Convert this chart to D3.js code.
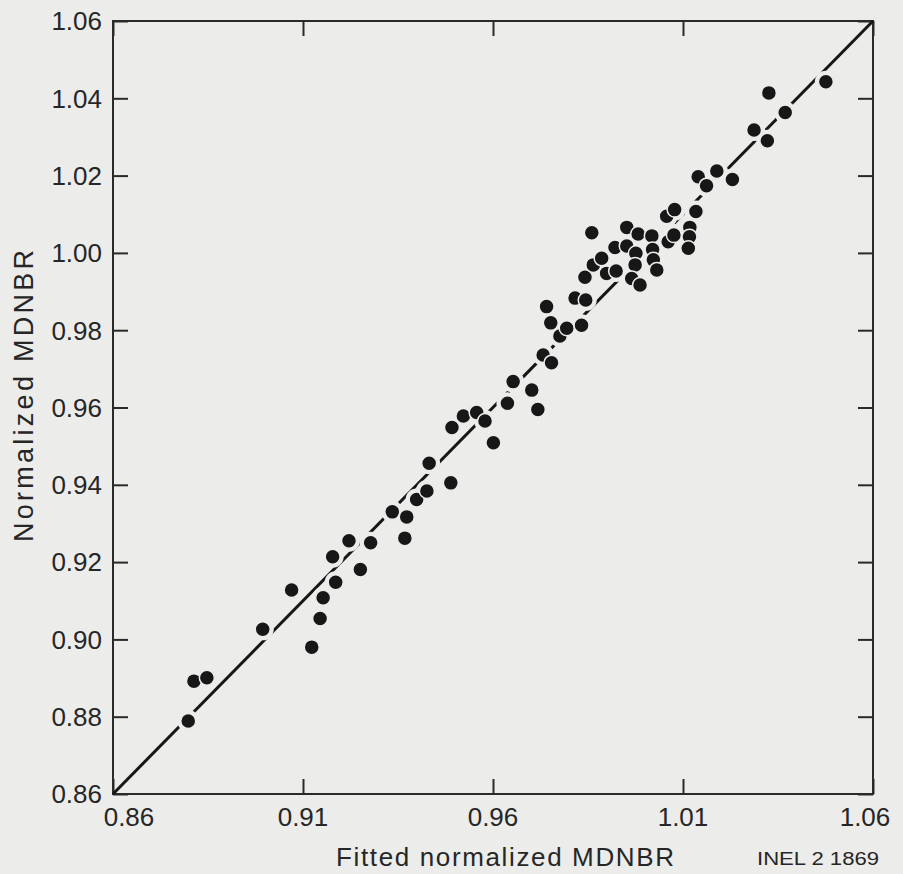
<!DOCTYPE html>
<html>
<head>
<meta charset="utf-8">
<script src="https://cdn.jsdelivr.net/npm/d3@7"></script>
<style>
  html, body { margin: 0; padding: 0; background: #ececea; }
  svg { display: block; }
  text { font-family: "Liberation Sans", Arial, Helvetica, sans-serif; fill: #262626; }
</style>
</head>
<body>
<svg id="chart" width="903" height="874"></svg>
<script>
// ---- Data ----
const xTickValues = [0.86, 0.91, 0.96, 1.01, 1.06];
const yTickValues = [0.86, 0.88, 0.90, 0.92, 0.94, 0.96, 0.98, 1.00, 1.02, 1.04, 1.06];
const xTickLabels = ["0.86", "0.91", "0.96", "1.01", "1.06"];
const yTickLabels = ["0.86", "0.88", "0.90", "0.92", "0.94", "0.96", "0.98", "1.00", "1.02", "1.04", "1.06"];

const fittedMDNBR = [
  0.8798, 0.8813, 0.8847, 0.8994, 0.9070, 0.9123, 0.9145, 0.9153, 0.9186, 0.9178,
  0.9221, 0.9278, 0.9251, 0.9335, 0.9373, 0.9368, 0.9399, 0.9426, 0.9432, 0.9489,
  0.9492, 0.9522, 0.9557, 0.9579, 0.9601, 0.9638, 0.9653, 0.9702, 0.9718, 0.9732,
  0.9754, 0.9741, 0.9752, 0.9776, 0.9794, 0.9833, 0.9816, 0.9844, 0.9842, 0.9864,
  0.9886, 0.9899, 0.9924, 0.9860, 0.9921, 0.9952, 0.9952, 0.9982, 0.9976, 0.9974,
  0.9965, 0.9987, 1.0018, 1.0020, 1.0022, 1.0031, 1.0057, 1.0078, 1.0061, 1.0076,
  1.0118, 1.0117, 1.0114, 1.0134, 1.0140, 1.0162, 1.0189, 1.0230, 1.0287, 1.0322,
  1.0326, 1.0369, 1.0476
];
const normalizedMDNBR = [
  0.8789, 0.8892, 0.8901, 0.9026, 0.9128, 0.8980, 0.9054, 0.9108, 0.9148, 0.9214,
  0.9255, 0.9250, 0.9181, 0.9330, 0.9317, 0.9262, 0.9362, 0.9384, 0.9456, 0.9405,
  0.9548, 0.9578, 0.9587, 0.9565, 0.9509, 0.9611, 0.9667, 0.9645, 0.9595, 0.9736,
  0.9716, 0.9861, 0.9819, 0.9785, 0.9805, 0.9813, 0.9883, 0.9878, 0.9937, 0.9969,
  0.9986, 0.9947, 0.9953, 1.0052, 1.0014, 1.0018, 1.0066, 1.0049, 0.9999, 0.9969,
  0.9934, 0.9917, 1.0044, 1.0009, 0.9982, 0.9956, 1.0095, 1.0112, 1.0029, 1.0046,
  1.0066, 1.0042, 1.0012, 1.0107, 1.0197, 1.0174, 1.0212, 1.0190, 1.0318, 1.0290,
  1.0414, 1.0363, 1.0443
];
const identityLine = [0.86, 1.06];

const xTitle = "Fitted normalized MDNBR";
const yTitle = "Normalized MDNBR";
const figureId = "INEL 2 1869";

(function draw() {
  const bg = "#ececea";
  const ink = "#171717";
  const svg = d3.select("#chart");
  const mLeft = 113, mRight = 873, mTop = 21, mBottom = 794;

  const x = d3.scaleLinear().domain([0.86, 1.06]).range([mLeft, mRight]);
  const y = d3.scaleLinear().domain([0.86, 1.06]).range([mBottom, mTop]);

  svg.append("rect").attr("width", 903).attr("height", 874).attr("fill", bg);

  const tickLen = 15;
  const axisStyle = g => {
    g.select(".domain").remove();
    g.selectAll(".tick line").attr("stroke", "#2a2a2a").attr("stroke-width", 2);
    g.selectAll("text").remove();
  };
  svg.append("g").attr("transform", `translate(0,${mBottom})`)
    .call(d3.axisBottom(x).tickValues(xTickValues).tickSizeInner(-tickLen).tickSizeOuter(0)).call(axisStyle);
  svg.append("g").attr("transform", `translate(0,${mTop})`)
    .call(d3.axisTop(x).tickValues(xTickValues).tickSizeInner(-tickLen).tickSizeOuter(0)).call(axisStyle);
  svg.append("g").attr("transform", `translate(${mLeft},0)`)
    .call(d3.axisLeft(y).tickValues(yTickValues).tickSizeInner(-tickLen).tickSizeOuter(0)).call(axisStyle);
  svg.append("g").attr("transform", `translate(${mRight},0)`)
    .call(d3.axisRight(y).tickValues(yTickValues).tickSizeInner(-tickLen).tickSizeOuter(0)).call(axisStyle);

  svg.append("rect")
    .attr("x", mLeft).attr("y", mTop)
    .attr("width", mRight - mLeft).attr("height", mBottom - mTop)
    .attr("fill", "none").attr("stroke", "#2a2a2a").attr("stroke-width", 2);

  const fs = 26;
  svg.append("g").selectAll("text").data(yTickValues).join("text")
    .attr("x", mLeft - 11).attr("y", d => y(d)).attr("dy", "0.36em")
    .attr("text-anchor", "end").attr("font-size", fs)
    .text((d, i) => yTickLabels[i]);

  svg.append("g").selectAll("text").data(xTickValues).join("text")
    .attr("x", (d, i) => x(d) + (i === 0 ? 16 : (i === xTickValues.length - 1 ? -8 : 0)))
    .attr("y", 826)
    .attr("text-anchor", "middle").attr("font-size", fs)
    .text((d, i) => xTickLabels[i]);

  // identity line
  svg.append("line")
    .attr("x1", x(identityLine[0])).attr("y1", y(identityLine[0]))
    .attr("x2", x(identityLine[1])).attr("y2", y(identityLine[1]))
    .attr("stroke", ink).attr("stroke-width", 3);

  const pts = fittedMDNBR.map((v, i) => ({ fx: v, ny: normalizedMDNBR[i] }));

  // halos: the line is broken where it passes near a point
  svg.append("g").selectAll("circle").data(pts).join("circle")
    .attr("cx", d => x(d.fx)).attr("cy", d => y(d.ny))
    .attr("r", 11)
    .attr("fill", bg);

  svg.append("g").selectAll("circle").data(pts).join("circle")
    .attr("cx", d => x(d.fx)).attr("cy", d => y(d.ny))
    .attr("r", 7.5)
    .attr("fill", ink)
    .attr("stroke", bg).attr("stroke-width", 1.5);

  svg.append("text")
    .attr("x", 505).attr("y", 866)
    .attr("text-anchor", "middle").attr("font-size", 26)
    .attr("textLength", 338).attr("lengthAdjust", "spacing")
    .text(xTitle);

  svg.append("text")
    .attr("transform", "translate(33,396) rotate(-90)")
    .attr("text-anchor", "middle").attr("font-size", 27)
    .attr("textLength", 292).attr("lengthAdjust", "spacing")
    .text(yTitle);

  svg.append("text")
    .attr("x", 879).attr("y", 865)
    .attr("text-anchor", "end").attr("font-size", 18)
    .attr("textLength", 122).attr("lengthAdjust", "spacingAndGlyphs")
    .text(figureId);
})();
</script>
</body>
</html>
